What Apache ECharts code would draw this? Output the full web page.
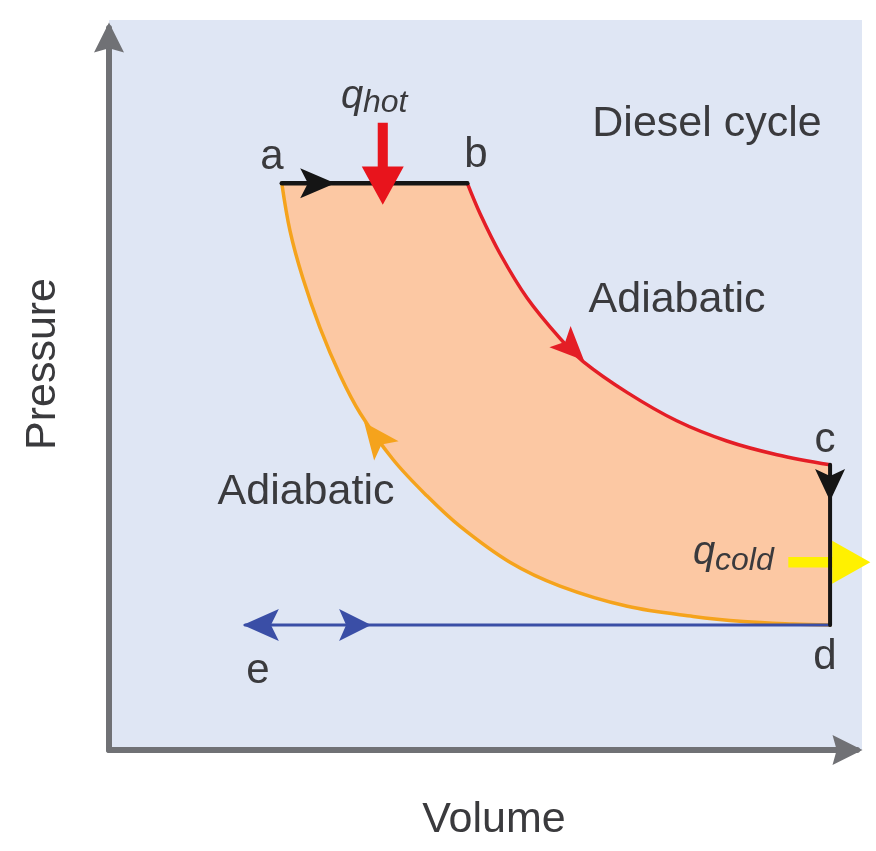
<!DOCTYPE html>
<html><head><meta charset="utf-8">
<script src="https://cdn.jsdelivr.net/npm/echarts@6/dist/echarts.min.js"></script>
<style>html,body{margin:0;padding:0;background:#fff}#c{width:876px;height:851px}</style>
</head><body><div id="c"></div>
<script>
// Diesel cycle state points: [Volume, Pressure] (arbitrary units 0-100)
const pointA = [23.1, 78.5];
const pointB = [47.9, 78.5];
const pointC = [96.4, 39.5];
const pointD = [96.4, 17.3];
const pointE = [18.2, 17.3];
// adiabatic expansion b -> c
const expansionV = [47.9, 49.6, 52.3, 55.9, 60.3, 63.4, 69.3, 75.9, 82.6, 89.3, 96.4];
const expansionP = [78.5, 74.3, 68.7, 62.6, 57.0, 53.8, 49.5, 45.6, 42.8, 40.9, 39.5];
// adiabatic compression d -> a
const compressionV = [96.4, 91.4, 84.8, 78.1, 69.3, 60.3, 53.6, 46.9, 42.5, 38.0, 33.6, 30.9, 28.2, 25.9, 24.2, 23.1];
const compressionP = [17.3, 17.45, 17.8, 18.5, 19.9, 22.7, 26.0, 31.0, 35.2, 40.2, 46.6, 51.9, 58.5, 65.4, 71.9, 78.5];
// direction arrows placed on the paths
const arrowAB = [27.9, 78.5];
const arrowCD = [96.4, 36.7];
const arrowExhaustL = [20.3, 17.3];
const arrowExhaustR = [32.9, 17.3];
const arrowCompression = [35.6, 43.4];
const arrowExpansion = [61.9, 55.6];
const heatIn = [36.6, 81.2];
const heatOut = [96.3, 26.0];
// texts
const axisNames = ['Volume', 'Pressure'];
const titleText = 'Diesel cycle';
const processText = 'Adiabatic';
const pointLabels = ['a', 'b', 'c', 'd', 'e'];

const expansion = expansionV.map((v, i) => [v, expansionP[i]]);
const compression = compressionV.map((v, i) => [v, compressionP[i]]);
const fillPath = [pointA, pointB].concat(expansion.slice(1), [pointD], compression.slice(1));

const HEAD = 'path://M50,0 L100,100 L50,78 L0,100 Z';
const BLOCK = 'path://M50,0 L100,93 L62,93 L62,200 L38,200 L38,93 L0,93 Z';
const AXIS_HEAD = 'path://M50,0 L100,100 L50,86 L0,100 Z';
const FONT = '"Liberation Sans", Arial, Helvetica, sans-serif';
const TXT = '#3a3a3d';

const chart = echarts.init(document.getElementById('c'), null, {renderer: 'canvas'});

function lineSeries(data, color, width, z) {
  return {type: 'line', data: data, showSymbol: false, symbol: 'none', silent: true, z: z,
    smooth: 0.35, lineStyle: {color: color, width: width, cap: 'round'}};
}
function text(t, x, y, size, opts) {
  return Object.assign({type: 'text', x: x, y: y, z: 50,
    style: Object.assign({text: t, font: size + 'px ' + FONT, fill: TXT, align: 'center', verticalAlign: 'middle'}, opts && opts.style || {})},
    opts && opts.el || {});
}
function mark(value, symbol, size, rotate, color) {
  return {value: value, symbol: symbol, symbolSize: size, symbolRotate: rotate, itemStyle: {color: color, opacity: 1}};
}

const option = {
  animation: false,
  backgroundColor: '#ffffff',
  grid: {left: 109, right: 19, top: 28, bottom: 101, containLabel: false},
  xAxis: {type: 'value', min: 0, max: 100,
    axisLine: {show: true, onZero: false, lineStyle: {color: '#707175', width: 6},
      symbol: ['none', AXIS_HEAD], symbolSize: [30, 35], symbolOffset: [0, -9.5]},
    axisTick: {show: false}, axisLabel: {show: false}, splitLine: {show: false}},
  yAxis: {type: 'value', min: 0, max: 100,
    axisLine: {show: true, onZero: false, lineStyle: {color: '#707175', width: 6},
      symbol: ['none', AXIS_HEAD], symbolSize: [30, 35], symbolOffset: [0, -9.5]},
    axisTick: {show: false}, axisLabel: {show: false}, splitLine: {show: false}},
  graphic: [
    {type: 'rect', z: -100, shape: {x: 109, y: 20, width: 753, height: 730}, style: {fill: '#dfe6f4'}},
    text(titleText, 707, 124, 43),
    text(processText, 677, 300, 43),
    text(processText, 306, 492, 43),
    text(axisNames[0], 494, 820, 43),
    text(axisNames[1], 43, 364, 43, {el: {rotation: Math.PI / 2}}),
    text(pointLabels[0], 272, 157, 42),
    text(pointLabels[1], 476, 155, 42),
    text(pointLabels[2], 825, 440, 42),
    text(pointLabels[3], 825, 657, 42),
    text(pointLabels[4], 258, 671, 42),
    text('q', 352, 97, 40, {style: {font: 'italic 40px ' + FONT}}),
    text('hot', 363, 103, 32, {style: {font: 'italic 32px ' + FONT, align: 'left'}}),
    text('q', 704, 553, 40, {style: {font: 'italic 40px ' + FONT}}),
    text('cold', 715, 561, 32, {style: {font: 'italic 32px ' + FONT, align: 'left'}})
  ],
  series: [
    {type: 'custom', silent: true, z: 1, data: [[0, 0]],
      renderItem: function (params, api) {
        return {type: 'polygon', shape: {points: fillPath.map(p => api.coord(p))}, style: {fill: '#fcc8a3'}};
      }},
    lineSeries(compression, '#f5a31c', 3.5, 3),
    lineSeries([pointE, pointD], '#3a4ea6', 3, 4),
    lineSeries(expansion, '#e41e26', 3.5, 5),
    lineSeries([pointA, pointB], '#151515', 4.5, 6),
    lineSeries([pointC, pointD], '#151515', 4, 6),
    {type: 'scatter', silent: true, z: 5, itemStyle: {opacity: 1}, data: [
      mark(heatOut, BLOCK, [43, 82], -90, '#fff100')
    ]},
    {type: 'scatter', silent: true, z: 8, itemStyle: {opacity: 1}, data: [
      mark(arrowAB, HEAD, [30, 35], -90, '#151515'),
      mark(arrowCD, HEAD, [30, 32], 180, '#151515'),
      mark(arrowExhaustL, HEAD, [32, 36], 90, '#3a4ea6'),
      mark(arrowExhaustR, HEAD, [32, 32], -90, '#3a4ea6'),
      mark(arrowCompression, HEAD, [31, 36], 38, '#f5a31c'),
      mark(arrowExpansion, HEAD, [30, 34], -135, '#e41e26'),
      mark(heatIn, BLOCK, [42, 82], 180, '#e8141c')
    ]}
  ]
};
chart.setOption(option);
</script></body></html>
